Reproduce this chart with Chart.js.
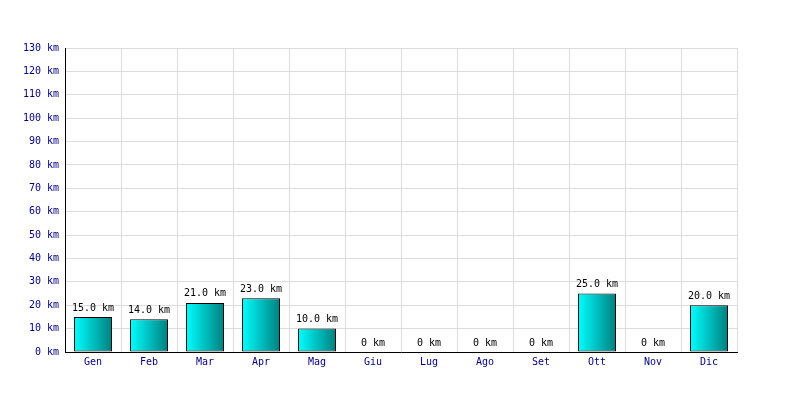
<!DOCTYPE html>
<html lang="it">
  <head>
    <meta charset="UTF-8" />
    <title>km per mese</title>
    <style>
      body { margin: 0; background: #fff; }
      #wrap { width: 800px; height: 400px; }
    </style>
  </head>
  <body>
    <div id="wrap"><canvas id="myChart" width="800" height="400"></canvas></div>
    <script src="https://cdn.jsdelivr.net/npm/chart.js"></script>
    <script>
      const mesi = ["Gen", "Feb", "Mar", "Apr", "Mag", "Giu", "Lug", "Ago", "Set", "Ott", "Nov", "Dic"];
      const km = [15, 14, 21, 23, 10, 0, 0, 0, 0, 25, 0, 20];
      const yMax = 130;
      const yStep = 10;

      const fmt = (v) => (v === 0 ? "0 km" : v.toFixed(1) + " km");
      const font = { family: "'DejaVu Sans Mono', monospace", size: 10 };
      const barPct = 0.68;

      // horizontal cyan -> teal gradient, one per bar
      const gradient = (c) => {
        const chart = c.chart;
        const xs = chart.scales.x;
        if (!xs || c.dataIndex == null) return "#00c0c0";
        const cx = xs.getPixelForValue(c.dataIndex);
        const w = (xs.width / mesi.length) * barPct;
        if (!isFinite(cx) || !isFinite(w) || w <= 0) return "#00c0c0";
        const g = chart.ctx.createLinearGradient(cx - w / 2, 0, cx + w / 2, 0);
        g.addColorStop(0, "#00ffff");
        g.addColorStop(1, "#008080");
        return g;
      };

      const valueLabels = {
        id: "valueLabels",
        afterDatasetsDraw(chart) {
          const ctx = chart.ctx;
          const meta = chart.getDatasetMeta(0);
          ctx.save();
          ctx.font = font.size + "px " + font.family;
          ctx.fillStyle = "#000";
          ctx.textAlign = "center";
          ctx.textBaseline = "bottom";
          meta.data.forEach((bar, i) => {
            ctx.fillText(fmt(km[i]), bar.x, bar.y - 4);
          });
          ctx.restore();
        },
      };

      new Chart(document.getElementById("myChart"), {
        type: "bar",
        data: {
          labels: mesi,
          datasets: [
            {
              data: km,
              backgroundColor: gradient,
              borderColor: "#000",
              borderWidth: 1,
              borderSkipped: false,
              categoryPercentage: barPct,
              barPercentage: 1,
            },
          ],
        },
        options: {
          responsive: false,
          animation: false,
          layout: { padding: { left: 0, top: 48, right: 63, bottom: 22 } },
          plugins: { legend: { display: false }, tooltip: { enabled: false } },
          scales: {
            x: {
              offset: true,
              grid: { offset: true, color: "#dcdcdc", drawTicks: false },
              border: { color: "#000", width: 1 },
              ticks: { color: "#000080", font: font, padding: 4, maxRotation: 0 },
              afterFit: (s) => { s.height = 26; },
            },
            y: {
              min: 0,
              max: yMax,
              grid: { color: "#dcdcdc", drawTicks: false },
              border: { color: "#000", width: 1 },
              ticks: {
                stepSize: yStep,
                color: "#000080",
                font: font,
                padding: 6,
                callback: (v) => v + " km",
              },
              afterFit: (s) => { s.width = 65; },
            },
          },
        },
        plugins: [valueLabels],
      });
    </script>
  </body>
</html>
